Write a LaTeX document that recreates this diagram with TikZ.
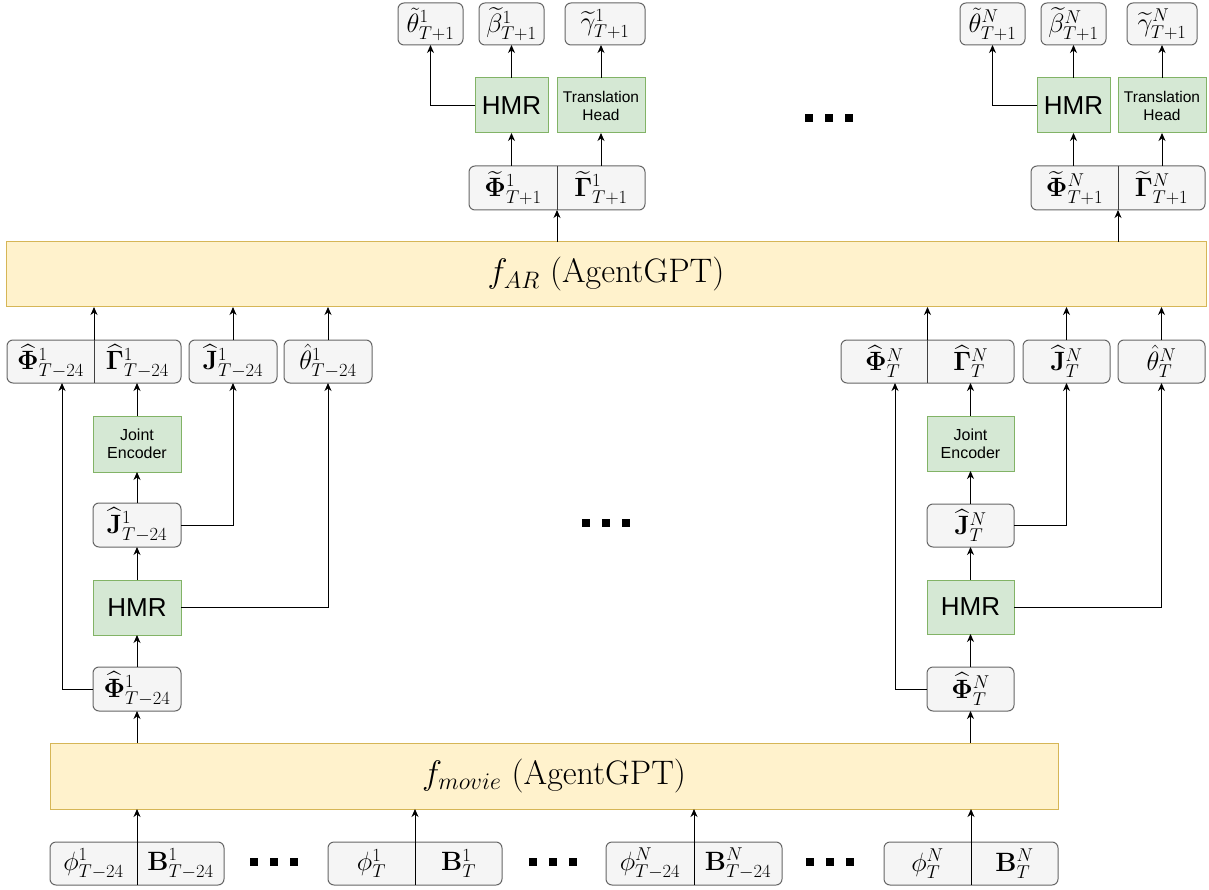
\RequirePackage{fix-cm}
\documentclass[tikz,border=0pt]{standalone}
\usepackage{amsmath}
\usepackage[no-math]{fontspec}
\newfontfamily\arialf{Liberation Sans}
\usetikzlibrary{arrows.meta,calc}
\definecolor{gfill}{HTML}{F5F5F5}
\definecolor{gline}{HTML}{666666}
\definecolor{grfill}{HTML}{D5E8D4}
\definecolor{grline}{HTML}{82B366}
\definecolor{yfill}{HTML}{FFF2CC}
\definecolor{yline}{HTML}{D6B656}
\newcommand\mfont{\fontsize{26.5}{30}\selectfont}
\newcommand\bigfont{\fontsize{34}{38}\selectfont}
\tikzset{
  vbox/.style={draw=gline, fill=gfill, rounded corners=6pt, line width=1pt, inner sep=0pt, outer sep=0pt, font=\mfont},
  gbox/.style={draw=grline, fill=grfill, line width=1pt, inner sep=0pt, outer sep=0pt, align=center},
  ybox/.style={draw=yline, fill=yfill, line width=1pt, inner sep=0pt, outer sep=0pt, font=\bigfont},
  hmrtop/.style={font=\arialf\fontsize{26}{29}\selectfont},
  hmrlow/.style={font=\arialf\fontsize{26}{29}\selectfont},
  jefont/.style={font=\arialf\fontsize{16}{18}\selectfont},
  thfont/.style={font=\arialf\fontsize{15.5}{18}\selectfont},
  arr/.style={-{Stealth[length=8pt,width=7pt,inset=2.5pt]}, line width=1pt, black},
  ln/.style={line width=1pt, black!75},
  dotsq/.style={fill=black, minimum size=8pt, inner sep=0pt, outer sep=0pt},
  lbl/.style={font=\mfont, inner sep=0pt}
}
\newcommand\bx[7]{\node[#6, minimum width={(#4-#2)*1pt}, minimum height={(#5-#3)*1pt}] (#1) at ({(#2+#4)/2},{(#3+#5)/2}) {#7};}
\newcommand\sbx[7]{\bx{#1}{#2}{#3}{#4}{#5}{vbox}{}
  \draw[ln] (#1.north) -- (#1.south);
  \node[lbl] (#1L) at ($(#1.west)!0.5!(#1.center)$) {#6};
  \node[lbl] (#1R) at ($(#1.east)!0.5!(#1.center)$) {#7};}
\begin{document}
\begin{tikzpicture}[x=1pt,y=-1pt]
\useasboundingbox (0,0) rectangle (1209,890);
% ---------- top outputs, person 1
\bx{t1}{398}{3}{463}{45}{vbox}{$\tilde{\theta}^1_{T+1}$}
\bx{b1}{479}{3}{544}{45}{vbox}{$\widetilde{\beta}^1_{T+1}$}
\bx{g1}{565}{3}{645}{45}{vbox}{$\widetilde{\gamma}^1_{T+1}$}
\bx{hmrT1}{475}{78}{548}{133}{gbox,hmrtop}{HMR}
\bx{th1}{557}{78}{645}{133}{gbox,thfont}{Translation\\Head}
\sbx{pg1}{469}{166}{645}{210}{$\widetilde{\mathbf{\Phi}}^1_{T+1}$}{$\widetilde{\mathbf{\Gamma}}^1_{T+1}$}
% ---------- top outputs, person N
\bx{tN}{960}{3}{1025}{45}{vbox}{$\tilde{\theta}^N_{T+1}$}
\bx{bN}{1041}{3}{1106}{45}{vbox}{$\widetilde{\beta}^N_{T+1}$}
\bx{gN}{1127}{3}{1197}{45}{vbox}{$\widetilde{\gamma}^N_{T+1}$}
\bx{hmrTN}{1037}{78}{1110}{133}{gbox,hmrtop}{HMR}
\bx{thN}{1118}{78}{1206}{133}{gbox,thfont}{Translation\\Head}
\sbx{pgN}{1031}{166}{1205}{210}{$\widetilde{\mathbf{\Phi}}^N_{T+1}$}{$\widetilde{\mathbf{\Gamma}}^N_{T+1}$}
% ---------- f_AR
\bx{far}{6}{242}{1206}{307}{ybox}{$f_{AR}$ (AgentGPT)}
% ---------- hat row, person 1
\sbx{pgh1}{7}{340}{181}{383}{$\widehat{\mathbf{\Phi}}^1_{T-24}$}{$\widehat{\mathbf{\Gamma}}^1_{T-24}$}
\bx{jh1}{189}{340}{277}{383}{vbox}{$\widehat{\mathbf{J}}^1_{T-24}$}
\bx{thh1}{284}{340}{372}{383}{vbox}{$\hat{\theta}^1_{T-24}$}
\bx{je1}{93}{416}{181}{472}{gbox,jefont}{Joint\\Encoder}
\bx{jl1}{93}{503}{181}{547}{vbox}{$\widehat{\mathbf{J}}^1_{T-24}$}
\bx{hl1}{93}{580}{181}{635}{gbox,hmrlow}{HMR}
\bx{fl1}{93}{667}{181}{711}{vbox}{$\widehat{\mathbf{\Phi}}^1_{T-24}$}
% ---------- hat row, person N
\sbx{pghN}{841}{340}{1014}{383}{$\widehat{\mathbf{\Phi}}^N_{T}$}{$\widehat{\mathbf{\Gamma}}^N_{T}$}
\bx{jhN}{1023}{340}{1110}{383}{vbox}{$\widehat{\mathbf{J}}^N_{T}$}
\bx{thhN}{1118}{340}{1205}{383}{vbox}{$\hat{\theta}^N_{T}$}
\bx{jeN}{927}{416}{1014}{471}{gbox,jefont}{Joint\\Encoder}
\bx{jlN}{927}{504}{1014}{547}{vbox}{$\widehat{\mathbf{J}}^N_{T}$}
\bx{hlN}{927}{580}{1014}{634}{gbox,hmrlow}{HMR}
\bx{flN}{927}{667}{1014}{711}{vbox}{$\widehat{\mathbf{\Phi}}^N_{T}$}
% ---------- f_movie
\bx{fmov}{50}{743}{1058}{809}{ybox}{$f_{movie}$ (AgentGPT)}
% ---------- inputs
\sbx{in1}{50}{842}{224}{885}{$\phi^1_{T-24}$}{$\mathbf{B}^1_{T-24}$}
\sbx{in2}{328}{842}{502}{885}{$\phi^1_{T}$}{$\mathbf{B}^1_{T}$}
\sbx{in3}{606}{842}{782}{885}{$\phi^N_{T-24}$}{$\mathbf{B}^N_{T-24}$}
\sbx{in4}{884}{842}{1058}{885}{$\phi^N_{T}$}{$\mathbf{B}^N_{T}$}
% ---------- dots
\foreach \nm/\px/\py in {da1/809/118,da2/829/118,da3/849/118,
  db1/586/523,db2/606/523,db3/626/523,
  dc1/254/862,dc2/274/862,dc3/294/862,
  dd1/533/862,dd2/553/862,dd3/573/862,
  de1/810/862,de2/830/862,de3/850/862}
  \node[dotsq] (\nm) at (\px,\py) {};
% ---------- connectors: inputs to f_movie
\foreach \n in {in1,in2,in3,in4}
  \draw[arr] (\n.north |- \n.south) -- (\n.north |- fmov.south);
% ---------- person 1 lower chain
\draw[arr] (fl1.south |- fmov.north) -- (fl1.south);
\draw[arr] (fl1.north) -- (hl1.south);
\draw[arr] (hl1.north) -- (jl1.south);
\draw[arr] (jl1.north) -- (je1.south);
\draw[arr] (je1.north) -- (je1.north |- pgh1.south);
\coordinate (c1) at (62,0);
\draw[arr] (fl1.west) -| (c1 |- pgh1.south);
\draw[arr] (jl1.east) -| (jh1.south);
\draw[arr] (hl1.east) -| (thh1.south);
\draw[arr] (pgh1.north) -- (pgh1.north |- far.south);
\draw[arr] (jh1.north) -- (jh1.north |- far.south);
\draw[arr] (thh1.north) -- (thh1.north |- far.south);
% ---------- person N lower chain
\draw[arr] (flN.south |- fmov.north) -- (flN.south);
\draw[arr] (flN.north) -- (hlN.south);
\draw[arr] (hlN.north) -- (jlN.south);
\draw[arr] (jlN.north) -- (jeN.south);
\draw[arr] (jeN.north) -- (jeN.north |- pghN.south);
\coordinate (cN) at (895,0);
\draw[arr] (flN.west) -| (cN |- pghN.south);
\draw[arr] (jlN.east) -| (jhN.south);
\draw[arr] (hlN.east) -| (thhN.south);
\draw[arr] (pghN.north) -- (pghN.north |- far.south);
\draw[arr] (jhN.north) -- (jhN.north |- far.south);
\draw[arr] (thhN.north) -- (thhN.north |- far.south);
% ---------- top chains
\draw[arr] (pg1.south |- far.north) -- (pg1.south);
\draw[arr] (hmrT1.south |- pg1.north) -- (hmrT1.south);
\draw[arr] (th1.south |- pg1.north) -- (th1.south);
\draw[arr] (hmrT1.west) -| (t1.south);
\draw[arr] (hmrT1.north) -- (b1.south);
\draw[arr] (th1.north) -- (th1.north |- g1.south);
\draw[arr] (pgN.south |- far.north) -- (pgN.south);
\draw[arr] (hmrTN.south |- pgN.north) -- (hmrTN.south);
\draw[arr] (thN.south |- pgN.north) -- (thN.south);
\draw[arr] (hmrTN.west) -| (tN.south);
\draw[arr] (hmrTN.north) -- (bN.south);
\draw[arr] (thN.north) -- (thN.north |- gN.south);
\end{tikzpicture}
\end{document}
